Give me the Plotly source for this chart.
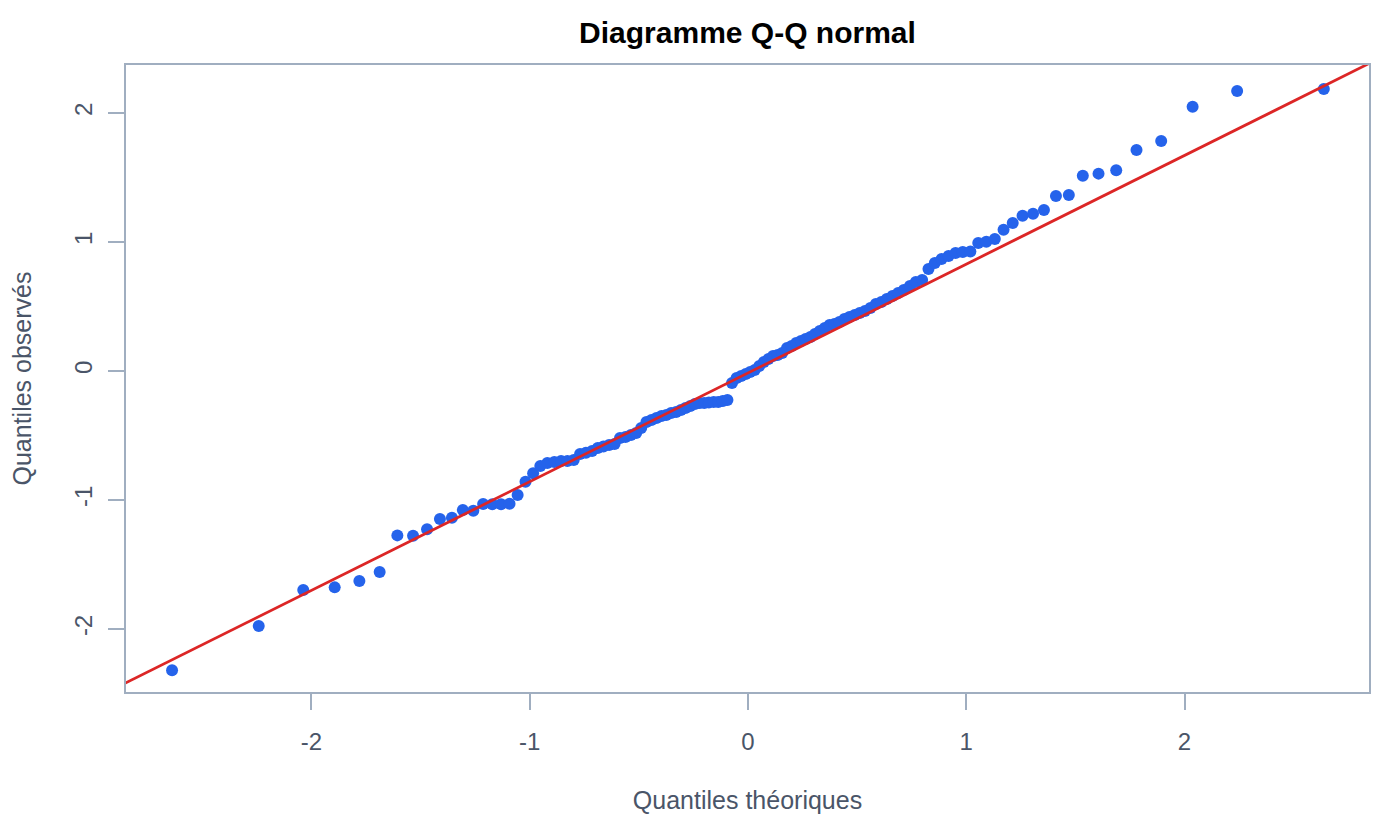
import plotly.graph_objects as go

# theoretical quantiles (n = 120)
theo_neg = [-2.638, -2.241, -2.037, -1.893, -1.780, -1.687, -1.606, -1.534, -1.470, -1.411,
            -1.356, -1.306, -1.258, -1.213, -1.171, -1.131, -1.092, -1.055, -1.019, -0.984,
            -0.951, -0.919, -0.887, -0.856, -0.827, -0.798, -0.769, -0.742, -0.714, -0.688,
            -0.662, -0.636, -0.611, -0.586, -0.561, -0.536, -0.512, -0.489, -0.465, -0.442,
            -0.419, -0.396, -0.374, -0.352, -0.329, -0.307, -0.286, -0.264, -0.243, -0.221,
            -0.200, -0.179, -0.157, -0.136, -0.115, -0.094, -0.073, -0.052, -0.031, -0.010]
theo_pos = [0.010, 0.031, 0.052, 0.073, 0.094, 0.115, 0.136, 0.157, 0.179, 0.200,
            0.221, 0.243, 0.264, 0.286, 0.307, 0.329, 0.352, 0.374, 0.396, 0.419,
            0.442, 0.465, 0.489, 0.512, 0.536, 0.561, 0.586, 0.611, 0.636, 0.662,
            0.688, 0.714, 0.742, 0.769, 0.798, 0.827, 0.856, 0.887, 0.919, 0.951,
            0.984, 1.019, 1.055, 1.092, 1.131, 1.171, 1.213, 1.258, 1.306, 1.356,
            1.411, 1.470, 1.534, 1.606, 1.687, 1.780, 1.893, 2.037, 2.241, 2.638]

# observed (sorted sample) quantiles
obs_low = [-2.320, -1.977, -1.698, -1.677, -1.628, -1.558, -1.274, -1.277, -1.227, -1.147,
           -1.137, -1.078, -1.083, -1.031, -1.033, -1.033, -1.029, -0.961, -0.858, -0.793,
           -0.736, -0.713, -0.705, -0.698, -0.698, -0.690, -0.643, -0.633, -0.620, -0.597,
           -0.585, -0.574, -0.566, -0.519, -0.512, -0.496, -0.481, -0.442, -0.395, -0.380,
           -0.364, -0.349, -0.341, -0.326, -0.318, -0.302, -0.287, -0.271, -0.256, -0.248,
           -0.248, -0.244, -0.240, -0.240, -0.233, -0.225, -0.093, -0.054, -0.039, -0.023]
obs_high = [-0.008, 0.008, 0.039, 0.070, 0.093, 0.116, 0.124, 0.140, 0.178, 0.194,
            0.217, 0.233, 0.248, 0.264, 0.287, 0.310, 0.333, 0.357, 0.364, 0.380,
            0.403, 0.419, 0.434, 0.450, 0.465, 0.488, 0.519, 0.535, 0.558, 0.581,
            0.605, 0.628, 0.659, 0.690, 0.705, 0.791, 0.837, 0.868, 0.891, 0.915,
            0.922, 0.926, 0.992, 1.002, 1.023, 1.095, 1.147, 1.204, 1.219, 1.248,
            1.357, 1.364, 1.514, 1.530, 1.556, 1.713, 1.783, 2.049, 2.171, 2.186]

# reference line (qqline)
line_intercept = -0.015
line_slope = 0.843
line_x = [-3.0, 3.0]

x_ticks = [-2, -1, 0, 1, 2]
y_ticks = [-2, -1, 0, 1, 2]

font_family = "Liberation Sans, Arial, Helvetica, sans-serif"
text_color = "#4a5568"
frame_color = "#a0aec0"

fig = go.Figure()
fig.add_trace(go.Scatter(
    x=theo_neg + theo_pos, y=obs_low + obs_high,
    mode="markers",
    marker=dict(size=12, color="#2563eb", line=dict(width=0)),
    showlegend=False, cliponaxis=True,
))
fig.add_trace(go.Scatter(
    x=line_x, y=[line_intercept + line_slope * v for v in line_x],
    mode="lines",
    line=dict(color="#dc2626", width=2.8),
    showlegend=False,
))

# margins allow for the 8px page offset of the html body
fig.update_layout(
    width=1400, height=820,
    margin=dict(l=118, r=39, t=57, b=136),
    paper_bgcolor="white", plot_bgcolor="white",
    font=dict(family=font_family, color=text_color, size=24),
    title=dict(text="<b>Diagramme Q-Q normal</b>", xref="paper", x=0.5, xanchor="center",
               y=0.97, yanchor="middle",
               font=dict(size=30, color="black", family=font_family)),
)
fig.update_xaxes(
    range=[-2.849, 2.845], tickvals=x_ticks, ticktext=[str(v) for v in x_ticks],
    showgrid=False, zeroline=False,
    showline=True, linecolor=frame_color, linewidth=1.5, mirror=True,
    ticks="outside", ticklen=16, tickcolor=frame_color, tickwidth=1.5,
    ticklabelstandoff=11,
    title=dict(text="Quantiles théoriques", standoff=38, font=dict(size=25, color=text_color)),
)
fig.update_yaxes(
    range=[-2.488, 2.372], tickvals=y_ticks, ticktext=[str(v) for v in y_ticks],
    showgrid=False, zeroline=False,
    showline=True, linecolor=frame_color, linewidth=1.5, mirror=True,
    ticks="outside", ticklen=16, tickcolor=frame_color, tickwidth=1.5,
    tickangle=-90, ticklabelstandoff=7,
    title=dict(text="Quantiles observés", standoff=33, font=dict(size=25, color=text_color)),
)

fig.write_html("out.html")
